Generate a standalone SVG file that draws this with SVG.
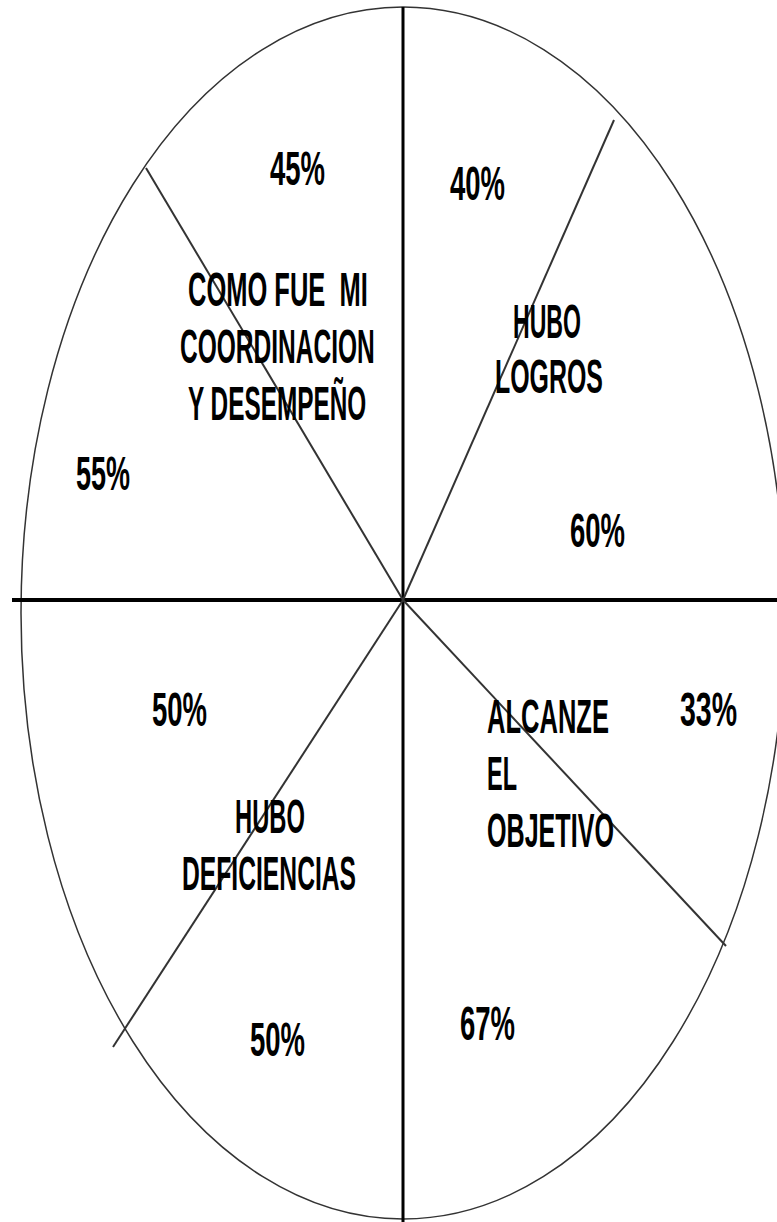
<svg xmlns="http://www.w3.org/2000/svg" width="777" height="1222" viewBox="0 0 777 1222">
<style>
.t{font-family:"Liberation Sans",Arial,sans-serif;font-weight:bold;font-size:48px;fill:#000;white-space:pre}
.rad{stroke:#333;stroke-width:2;fill:none}
</style>
<rect width="777" height="1222" fill="#fff"/>
<g id="circle">
<ellipse cx="403" cy="613" rx="382" ry="606" fill="none" stroke="#333" stroke-width="1.5"/>
</g>
<g id="connectors">
<line x1="403" y1="7" x2="403" y2="1222" stroke="#000" stroke-width="3"/>
<line x1="12" y1="600" x2="777" y2="600" stroke="#000" stroke-width="4"/>
<line class="rad" x1="403" y1="600" x2="614" y2="120"/>
<line class="rad" x1="403" y1="600" x2="146" y2="168"/>
<line class="rad" x1="403" y1="600" x2="726" y2="946"/>
<line class="rad" x1="403" y1="600" x2="113" y2="1047"/>
</g>
<g id="q1">
<text class="t" transform="translate(270,185) scale(0.573,1)">45%</text>
<text class="t" transform="translate(76,490) scale(0.5625,1)">55%</text>
<text class="t" transform="translate(188,306) scale(0.531,1)" xml:space="preserve">COMO FUE  MI</text>
<text class="t" transform="translate(180,363) scale(0.511,1)">COORDINACION</text>
<text class="t" transform="translate(188,420) scale(0.508,1)">Y DESEMPEÑO</text>
</g>
<g id="q2">
<text class="t" transform="translate(450,200) scale(0.573,1)">40%</text>
<text class="t" transform="translate(570,547) scale(0.573,1)">60%</text>
<text class="t" transform="translate(513,338) scale(0.481,1)">HUBO</text>
<text class="t" transform="translate(495,393) scale(0.519,1)">LOGROS</text>
</g>
<g id="q3">
<text class="t" transform="translate(680,726) scale(0.594,1)">33%</text>
<text class="t" transform="translate(460,1040) scale(0.573,1)">67%</text>
<text class="t" transform="translate(487,733) scale(0.532,1)">ALCANZE</text>
<text class="t" transform="translate(487,790) scale(0.489,1)">EL</text>
<text class="t" transform="translate(487,847) scale(0.523,1)">OBJETIVO</text>
</g>
<g id="q4">
<text class="t" transform="translate(152,726) scale(0.573,1)">50%</text>
<text class="t" transform="translate(250,1056) scale(0.573,1)">50%</text>
<text class="t" transform="translate(235,833) scale(0.495,1)">HUBO</text>
<text class="t" transform="translate(182,890) scale(0.514,1)">DEFICIENCIAS</text>
</g>
</svg>
